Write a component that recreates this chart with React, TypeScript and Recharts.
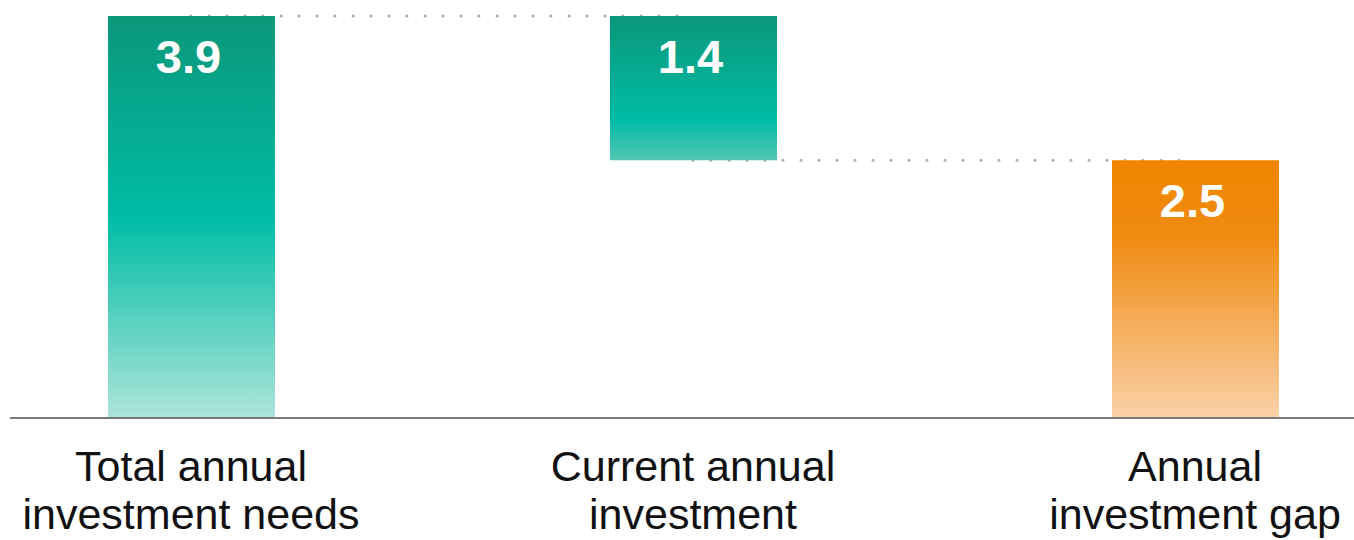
import React from 'react'
import { ComposedChart, Bar, Line, XAxis, YAxis, Cell, LabelList } from 'recharts'

const categories = ['Total annual investment needs', 'Current annual investment', 'Annual investment gap']
const tickLines = [
  ['Total annual', 'investment needs'],
  ['Current annual', 'investment'],
  ['Annual', 'investment gap'],
]
const baseValues = [0, 2.5, 0]
const barValues = [3.9, 1.4, 2.5]
// dotted connectors: top of total -> top of current, bottom of current -> top of gap
const connectorTop = [3.9, 3.9, null]
const connectorLow = [null, 2.5, 2.5]

const data = categories.map((name, i) => ({
  name,
  base: baseValues[i],
  value: barValues[i],
  c1: connectorTop[i],
  c2: connectorLow[i],
}))

const FONT = '"Liberation Sans", Arial, Helvetica, sans-serif'

const gradients = [
  { id: 'g0', stops: [[0, '#0b977a'], [0.5, '#00bca6'], [1, '#aee4d9']] },
  { id: 'g1', stops: [[0, '#0b977a'], [0.72, '#00bca6'], [1, '#52c6b4']] },
  { id: 'g2', stops: [[0, '#f08600'], [0.3, '#f08b12'], [1, '#fad1a8']] },
]

function Tick(props: any) {
  const { x, y, payload } = props
  const lines = tickLines[payload.index] || [payload.value]
  return (
    <text x={x} y={y} textAnchor="middle" fill="#111" fontSize={43} fontFamily={FONT}>
      {lines.map((l, i) => (
        <tspan key={i} x={x} dy={i === 0 ? 55 : 48}>{l}</tspan>
      ))}
    </text>
  )
}

function ValueLabel(props: any) {
  const { x, y, width, value } = props
  return (
    <text x={x + width / 2 - 3} y={y + 57} textAnchor="middle" fill="#fff" fontSize={47} fontWeight="bold" fontFamily={FONT}>
      {value}
    </text>
  )
}

export default function App() {
  return (
    <div style={{ position: 'absolute', left: 0, top: 0, background: '#fff' }}>
      <ComposedChart width={1354} height={540} data={data} margin={{ top: 16, right: 0, left: 10, bottom: 22 }}>
        <defs>
          {gradients.map((g) => (
            <linearGradient key={g.id} id={g.id} x1="0" y1="0" x2="0" y2="1">
              {g.stops.map(([o, c]) => (
                <stop key={String(o)} offset={o as number} stopColor={c as string} />
              ))}
            </linearGradient>
          ))}
        </defs>
        <XAxis
          dataKey="name"
          height={100}
          padding={{ left: -70, right: -92 }}
          tickLine={false}
          axisLine={{ stroke: '#7a7a7a', strokeWidth: 2 }}
          tick={<Tick />}
          interval={0}
        />
        <YAxis hide domain={[0, 3.9]} />
        <Line
          type="linear" dataKey="c1" stroke="#a9a9a9" strokeWidth={3} zIndex={100}
          strokeDasharray="0 18" strokeLinecap="round" dot={false} activeDot={false}
          isAnimationActive={false}
        />
        <Line
          type="linear" dataKey="c2" stroke="#a9a9a9" strokeWidth={3} zIndex={100}
          strokeDasharray="0 18" strokeLinecap="round" dot={false} activeDot={false}
          isAnimationActive={false}
        />
        <Bar dataKey="base" stackId="w" fill="transparent" barSize={167} isAnimationActive={false} />
        <Bar dataKey="value" stackId="w" barSize={167} isAnimationActive={false}>
          {data.map((_, i) => (
            <Cell key={i} fill={`url(#g${i})`} />
          ))}
          <LabelList dataKey="value" content={<ValueLabel />} />
        </Bar>
      </ComposedChart>
    </div>
  )
}
